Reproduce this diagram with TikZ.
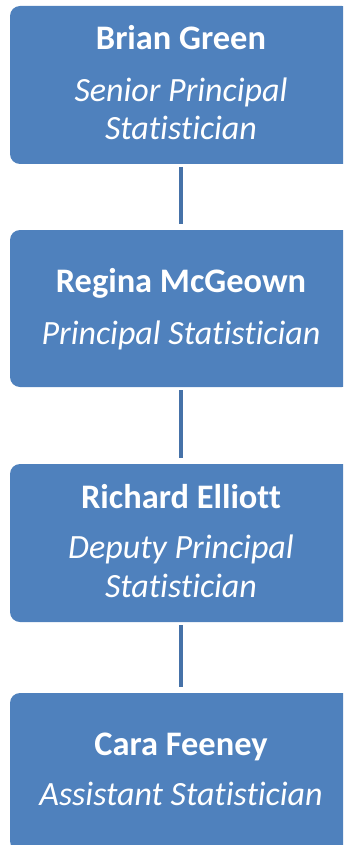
\documentclass[tikz,border=0pt]{standalone}
\usepackage{fontspec}
\setmainfont{Carlito}[Ligatures={NoCommon}]
\definecolor{boxblue}{HTML}{4F81BD}
\definecolor{linkblue}{HTML}{4672A8}
\begin{document}
\begin{tikzpicture}[x=1pt,y=-1pt,
  card/.style={fill=boxblue, draw=none, rounded corners=10pt,
    minimum width=342pt, inner sep=0pt, outer sep=0pt},
  namelabel/.style={anchor=base, text=white, inner sep=0pt,
    font=\fontsize{34.4}{40}\selectfont\bfseries},
  rolelabel/.style={anchor=base, text=white, inner sep=0pt,
    font=\fontsize{34}{40}\selectfont\itshape},
  link/.style={draw=linkblue, line width=3.4pt, shorten <=3pt, shorten >=6pt}]
\useasboundingbox (0,0) rectangle (343,845);
\clip (0,0) rectangle (343,845);

% reporting chain, one card per person
\node[card, minimum height=158pt] (c1) at (181,85) {};
\node[card, minimum height=157pt] (c2) at (181,308.5) {};
\node[card, minimum height=158pt] (c3) at (181,543) {};
\node[card, minimum height=158pt] (c4) at (181,772) {};

% connectors between cards
\draw[link] (c1.south) -- (c2.north);
\draw[link] (c2.south) -- (c3.north);
\draw[link] (c3.south) -- (c4.north);

% names and titles
\node[namelabel] (n1) at (181,50) {Brian Green};
\node[rolelabel] (r1a) at (181,102) {Senior Principal};
\node[rolelabel] (r1b) at (181,140) {Statistician};

\node[namelabel] (n2) at (181,292) {Regina McGeown};
\node[rolelabel] (r2) at (181,344) {Principal Statistician};

\node[namelabel] (n3) at (181,508) {Richard Elliott};
\node[rolelabel] (r3a) at (181,558) {Deputy Principal};
\node[rolelabel] (r3b) at (181,597) {Statistician};

\node[namelabel] (n4) at (181,755) {Cara Feeney};
\node[rolelabel] (r4) at (181,805) {Assistant Statistician};
\end{tikzpicture}
\end{document}
